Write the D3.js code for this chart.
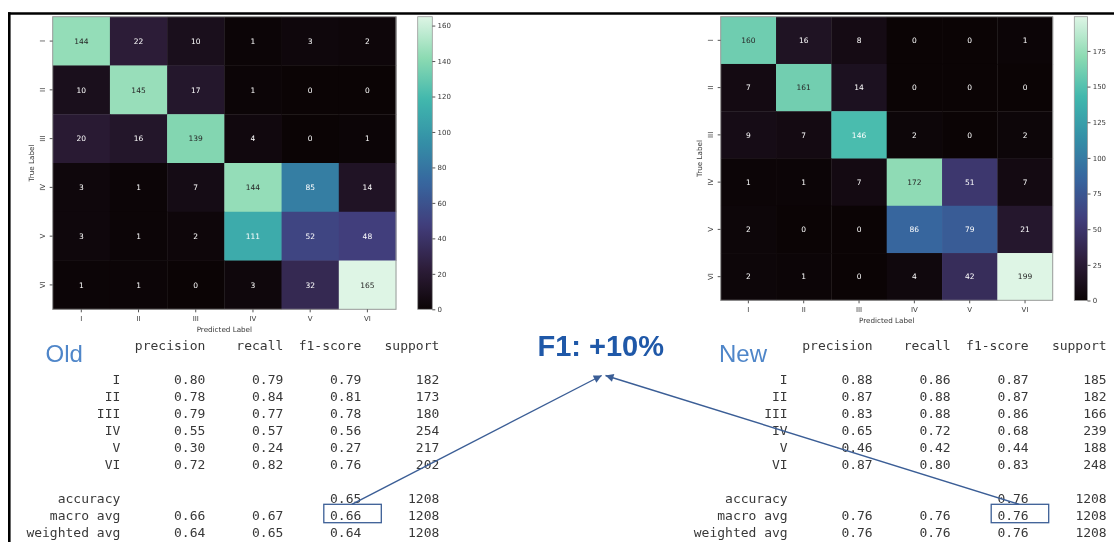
<!DOCTYPE html>
<html>
<head>
<meta charset="utf-8">
<script src="https://cdn.jsdelivr.net/npm/d3@7"></script>
<style>
  html, body { margin: 0; padding: 0; background: #fff; }
  svg { display: block; will-change: transform; }
</style>
</head>
<body>
<svg id="chart" width="1114" height="542"></svg>
<script>
// ---------------- DATA ----------------
const categories = ["I", "II", "III", "IV", "V", "VI"];

const oldMatrix = [
  [144, 22, 10, 1, 3, 2],
  [10, 145, 17, 1, 0, 0],
  [20, 16, 139, 4, 0, 1],
  [3, 1, 7, 144, 85, 14],
  [3, 1, 2, 111, 52, 48],
  [1, 1, 0, 3, 32, 165]
];
const newMatrix = [
  [160, 16, 8, 0, 0, 1],
  [7, 161, 14, 0, 0, 0],
  [9, 7, 146, 2, 0, 2],
  [1, 1, 7, 172, 51, 7],
  [2, 0, 0, 86, 79, 21],
  [2, 1, 0, 4, 42, 199]
];
const oldColorbarTicks = [0, 20, 40, 60, 80, 100, 120, 140, 160];
const newColorbarTicks = [0, 25, 50, 75, 100, 125, 150, 175];

const reportHeaders = ["precision", "recall", "f1-score", "support"];
const summaryLabels = ["accuracy", "macro avg", "weighted avg"];

const oldPrecision = [0.80, 0.78, 0.79, 0.55, 0.30, 0.72];
const oldRecall    = [0.79, 0.84, 0.77, 0.57, 0.24, 0.82];
const oldF1        = [0.79, 0.81, 0.78, 0.56, 0.27, 0.76];
const oldSupport   = [182, 173, 180, 254, 217, 202];
const oldAccuracy  = 0.65;
const oldMacro     = [0.66, 0.67, 0.66];
const oldWeighted  = [0.64, 0.65, 0.64];
const oldTotal     = 1208;

const newPrecision = [0.88, 0.87, 0.83, 0.65, 0.46, 0.87];
const newRecall    = [0.86, 0.88, 0.88, 0.72, 0.42, 0.80];
const newF1        = [0.87, 0.87, 0.86, 0.68, 0.44, 0.83];
const newSupport   = [185, 182, 166, 239, 188, 248];
const newAccuracy  = 0.76;
const newMacro     = [0.76, 0.76, 0.76];
const newWeighted  = [0.76, 0.76, 0.76];
const newTotal     = 1208;

const improvementLabel = "F1: +10%";

// ---------------- STYLE ----------------
const makoStops  = [0, 1/7, 2/7, 3/7, 4/7, 5/7, 6/7, 1];
const makoColors = ["#0b0405", "#2e1e3b", "#413d7b", "#37659e", "#348fa7", "#40b7ad", "#8bdab2", "#def5e5"];
const axisFont = "DejaVu Sans, sans-serif";
const monoFont = "DejaVu Sans Mono, monospace";
const textGray = "#383838";
const arrowBlue = "#3b5e96";

const svg = d3.select("#chart");

// figure frame
svg.append("line").attr("x1", 8).attr("x2", 1114).attr("y1", 13.5).attr("y2", 13.5)
  .attr("stroke", "#000").attr("stroke-width", 2.6);
svg.append("line").attr("x1", 9.3).attr("x2", 9.3).attr("y1", 12.2).attr("y2", 542)
  .attr("stroke", "#000").attr("stroke-width", 2.6);

function luminance(c) {
  const rgb = d3.rgb(c);
  const f = v => { v /= 255; return v <= 0.03928 ? v / 12.92 : Math.pow((v + 0.055) / 1.055, 2.4); };
  return 0.2126 * f(rgb.r) + 0.7152 * f(rgb.g) + 0.0722 * f(rgb.b);
}

function drawHeatmap(cfg, idx) {
  const { matrix, x0, x1, y0, y1, cbX0, cbX1, cbY0, cbY1, ticks } = cfg;
  const vmax = d3.max(matrix.flat());
  const vmin = d3.min(matrix.flat());
  const color = d3.scaleLinear()
    .domain(makoStops.map(s => vmin + s * (vmax - vmin)))
    .range(makoColors)
    .interpolate(d3.interpolateRgb)
    .clamp(true);

  const x = d3.scaleBand().domain(categories).range([x0, x1]);
  const y = d3.scaleBand().domain(categories).range([y0, y1]);
  const g = svg.append("g");

  const cells = [];
  matrix.forEach((row, i) => row.forEach((v, j) => cells.push({ r: categories[i], c: categories[j], v })));

  g.selectAll("rect.cell").data(cells).join("rect")
    .attr("class", "cell")
    .attr("x", d => x(d.c)).attr("y", d => y(d.r))
    .attr("width", x.bandwidth() + 0.4).attr("height", y.bandwidth() + 0.4)
    .attr("fill", d => color(d.v));

  g.selectAll("text.annot").data(cells).join("text")
    .attr("class", "annot")
    .attr("x", d => x(d.c) + x.bandwidth() / 2)
    .attr("y", d => y(d.r) + y.bandwidth() / 2 + 2.7)
    .attr("text-anchor", "middle")
    .attr("font-family", axisFont).attr("font-size", 7.5)
    .attr("fill", d => luminance(color(d.v)) < 0.408 ? "#ffffff" : "#262626")
    .text(d => d.v);

  // outline
  g.append("rect").attr("x", x0).attr("y", y0).attr("width", x1 - x0).attr("height", y1 - y0)
    .attr("fill", "none").attr("stroke", "#9a9a9a").attr("stroke-width", 1);

  // axes
  const yAxis = g.append("g").attr("transform", `translate(${x0},0)`)
    .call(d3.axisLeft(y).tickSize(3).tickPadding(4));
  yAxis.select(".domain").remove();
  yAxis.selectAll("line").attr("stroke", "#555");
  yAxis.selectAll("text")
    .attr("transform", "rotate(-90)")
    .attr("x", 0).attr("y", -7.4).attr("dy", 0)
    .attr("text-anchor", "middle")
    .attr("font-family", axisFont).attr("font-size", 7)
    .attr("fill", textGray);

  const xAxis = g.append("g").attr("transform", `translate(0,${y1})`)
    .call(d3.axisBottom(x).tickSize(3).tickPadding(3.5));
  xAxis.select(".domain").remove();
  xAxis.selectAll("line").attr("stroke", "#555");
  xAxis.selectAll("text")
    .attr("font-family", axisFont).attr("font-size", 7)
    .attr("fill", textGray);

  g.append("text")
    .attr("x", (x0 + x1) / 2).attr("y", y1 + 23)
    .attr("text-anchor", "middle")
    .attr("font-family", axisFont).attr("font-size", 7.2).attr("fill", textGray)
    .text("Predicted Label");
  g.append("text")
    .attr("transform", `translate(${x0 - 18.6},${(y0 + y1) / 2}) rotate(-90)`)
    .attr("text-anchor", "middle")
    .attr("font-family", axisFont).attr("font-size", 7.2).attr("fill", textGray)
    .text("True Label");

  // colorbar
  const gradId = "grad" + idx;
  const grad = svg.append("defs").append("linearGradient").attr("id", gradId)
    .attr("x1", 0).attr("x2", 0).attr("y1", 1).attr("y2", 0);
  d3.range(0, 1.0001, 0.02).forEach(t => {
    grad.append("stop").attr("offset", t).attr("stop-color", color(vmin + t * (vmax - vmin)));
  });
  g.append("rect").attr("x", cbX0).attr("y", cbY0).attr("width", cbX1 - cbX0).attr("height", cbY1 - cbY0)
    .attr("fill", `url(#${gradId})`).attr("stroke", "#9a9a9a").attr("stroke-width", 0.8);
  const cbScale = d3.scaleLinear().domain([vmin, vmax]).range([cbY1, cbY0]);
  const cbAxis = g.append("g").attr("transform", `translate(${cbX1},0)`)
    .call(d3.axisRight(cbScale).tickValues(ticks).tickSize(3).tickPadding(2.2));
  cbAxis.select(".domain").remove();
  cbAxis.selectAll("line").attr("stroke", "#555");
  cbAxis.selectAll("text")
    .attr("font-family", axisFont).attr("font-size", 7)
    .attr("fill", textGray);
}

drawHeatmap({
  matrix: oldMatrix, ticks: oldColorbarTicks,
  x0: 52.7, x1: 396, y0: 16.7, y1: 309.3,
  cbX0: 417.7, cbX1: 432.3, cbY0: 16.7, cbY1: 309.3
}, 0);
drawHeatmap({
  matrix: newMatrix, ticks: newColorbarTicks,
  x0: 720.7, x1: 1052.7, y0: 16.7, y1: 300.3,
  cbX0: 1074.3, cbX1: 1087.5, cbY0: 16.7, cbY1: 300.5
}, 1);

// ---------------- REPORT TABLES ----------------
const fmt2 = d3.format(".2f");
const rowStep = 17;
const firstRowY = 379;
const colStep = 78;

function drawReport(cfg) {
  const { labelRight, precision, recall, f1, support, accuracy, macro, weighted, total, title, titleX } = cfg;
  const g = svg.append("g")
    .attr("font-family", monoFont).attr("font-size", 13).attr("fill", textGray);
  const colRight = i => labelRight + 85 + i * colStep;
  const rowY = i => firstRowY + i * rowStep + 4.7;

  reportHeaders.forEach((h, i) => {
    g.append("text").attr("x", colRight(i)).attr("y", firstRowY - 2 * rowStep + 4.7)
      .attr("text-anchor", "end").text(h);
  });

  const rows = categories.map((c, i) => ({
    label: c, vals: [fmt2(precision[i]), fmt2(recall[i]), fmt2(f1[i]), String(support[i])], idx: i
  }));
  rows.push({ label: summaryLabels[0], vals: ["", "", fmt2(accuracy), String(total)], idx: 7 });
  rows.push({ label: summaryLabels[1], vals: macro.map(fmt2).concat([String(total)]), idx: 8 });
  rows.push({ label: summaryLabels[2], vals: weighted.map(fmt2).concat([String(total)]), idx: 9 });

  rows.forEach(r => {
    g.append("text").attr("x", labelRight).attr("y", rowY(r.idx)).attr("text-anchor", "end").text(r.label);
    r.vals.forEach((v, i) => {
      if (v) g.append("text").attr("x", colRight(i)).attr("y", rowY(r.idx)).attr("text-anchor", "end").text(v);
    });
  });

  // title
  svg.append("text").attr("x", titleX).attr("y", 362)
    .attr("font-family", "Liberation Sans, Arial, sans-serif").attr("font-size", 24)
    .attr("fill", "#4f86c9").text(title);

  // highlight box around macro avg f1
  const boxX = colRight(2) - 37.5;
  const boxY = firstRowY + 8 * rowStep - 10.7;
  svg.append("rect").attr("x", boxX).attr("y", boxY).attr("width", 57.5).attr("height", 18.4)
    .attr("fill", "none").attr("stroke", arrowBlue).attr("stroke-width", 1.3);
  return { x: boxX + 28, y: boxY };
}

const oldAnchor = drawReport({
  labelRight: 120.3, precision: oldPrecision, recall: oldRecall, f1: oldF1, support: oldSupport,
  accuracy: oldAccuracy, macro: oldMacro, weighted: oldWeighted, total: oldTotal,
  title: "Old", titleX: 45.5
});
const newAnchor = drawReport({
  labelRight: 787.7, precision: newPrecision, recall: newRecall, f1: newF1, support: newSupport,
  accuracy: newAccuracy, macro: newMacro, weighted: newWeighted, total: newTotal,
  title: "New", titleX: 719
});

// ---------------- ANNOTATION ----------------
svg.append("text").attr("x", 537.5).attr("y", 355.5)
  .attr("font-family", "Liberation Sans, Arial, sans-serif").attr("font-weight", "bold")
  .attr("font-size", 29).attr("fill", "#1f58a8")
  .text(improvementLabel);

svg.append("defs").append("marker")
  .attr("id", "arrowhead").attr("viewBox", "0 0 10 10")
  .attr("refX", 10).attr("refY", 5)
  .attr("markerWidth", 9).attr("markerHeight", 8)
  .attr("markerUnits", "userSpaceOnUse")
  .attr("orient", "auto")
  .append("path").attr("d", "M0,0 L10,5 L0,10 Z").attr("fill", arrowBlue);

const tips = [{ x: 601.7, y: 375.5 }, { x: 605.5, y: 375.5 }];
[[oldAnchor, tips[0]], [newAnchor, tips[1]]].forEach(([a, t]) => {
  svg.append("line")
    .attr("x1", a.x).attr("y1", a.y).attr("x2", t.x).attr("y2", t.y)
    .attr("stroke", arrowBlue).attr("stroke-width", 1.4)
    .attr("marker-end", "url(#arrowhead)");
});
</script>
</body>
</html>
